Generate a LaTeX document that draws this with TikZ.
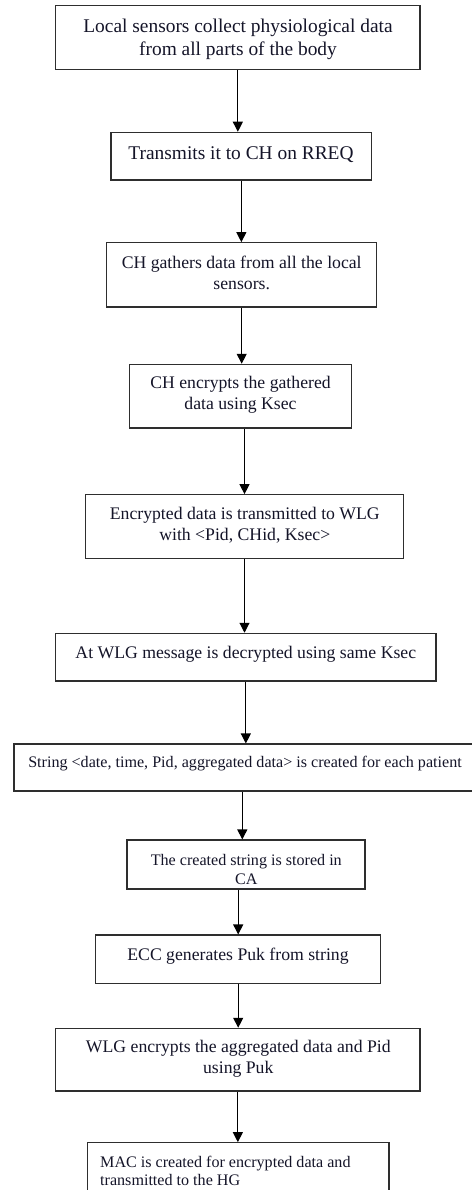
\documentclass[tikz,border=0pt]{standalone}
\usepackage{fontspec}
\setmainfont{Liberation Serif}
\usetikzlibrary{arrows.meta,fit,calc}

\definecolor{inkdark}{HTML}{141428}
\definecolor{frame}{HTML}{2E2E2E}

\tikzset{
  stepbox/.style={draw=frame, line width=1.1pt, inner sep=0pt, rectangle},
  flowarrow/.style={draw=black, line width=1.1pt, -{Triangle[length=10pt,width=10pt]}},
  txtbase/.style={text=inkdark, align=center, inner sep=0pt, yshift=-2.5pt},
  txtbig/.style={txtbase, font=\fontsize{19.4}{22.8}\selectfont},
  txtmid/.style={txtbase, font=\fontsize{17.7}{20.7}\selectfont},
  txtsmall/.style={txtbase, font=\fontsize{16.1}{18.4}\selectfont},
}

\begin{document}
\begin{tikzpicture}[x=1pt, y=-1pt]
  \useasboundingbox (0,0) rectangle (471,1190);

  % process boxes
  \node[stepbox, fit={(55.7,5.7) (420,69.3)}]     (b1) {};
  \node[stepbox, fit={(111,132.3) (371.7,180)}]   (b2) {};
  \node[stepbox, fit={(106.7,242.7) (376.7,307)}] (b3) {};
  \node[stepbox, fit={(129.3,364.3) (351.7,428)}] (b4) {};
  \node[stepbox, fit={(85.3,494.7) (403.7,558.3)}] (b5) {};
  \node[stepbox, fit={(55.7,633.3) (436,681)}]    (b6) {};
  \node[stepbox, fit={(14,744) (476,791)}]        (b7) {};
  \node[stepbox, fit={(127,840) (365,889)}]       (b8) {};
  \node[stepbox, fit={(95.7,935) (380.7,983.3)}]  (b9) {};
  \node[stepbox, fit={(55.7,1028.3) (420,1091)}]  (b10) {};
  \node[stepbox, fit={(87.7,1142.7) (389,1200)}]  (b11) {};

  % box texts
  \node[txtbig] (t1) at (238,36.5) {Local sensors collect physiological data\\from all parts of the body};
  \node[txtbig] (t2) at (241,152) {Transmits it to CH on RREQ};
  \node[txtmid] (t3) at (241.7,270.3) {CH gathers data from all the local\\sensors.};
  \node[txtmid] (t4) at (240.5,392) {CH encrypts the gathered\\data using Ksec};
  \node[txtmid] (t5) at (244.8,522.5) {Encrypted data is transmitted to WLG\\with <Pid, CHid, Ksec>};
  \node[txtmid] (t6) at (245.8,651.7) {At WLG message is decrypted using same Ksec};
  \node[txtsmall] (t7) at (245,761) {String <date, time, Pid, aggregated data> is created for each patient};
  \node[txtsmall] (t8) at (246.3,867) {The created string is stored in\\CA};
  \node[txtmid] (t9) at (238,954) {ECC generates Puk from string};
  \node[txtmid] (t10) at (238.3,1056) {WLG encrypts the aggregated data and Pid\\using Puk};
  \node[txtsmall, align=left, anchor=west] (t11) at (100,1168.5) {MAC is created for encrypted data and\\transmitted to the HG};

  % connectors
  \draw[flowarrow] (b1.south) -- (b1.south |- b2.north);
  \draw[flowarrow] (b2.south) -- (b2.south |- b3.north);
  \draw[flowarrow] (b3.south) -- (b3.south |- b4.north);
  \draw[flowarrow] (b5.north |- b4.south) -- (b5.north);
  \draw[flowarrow] (b5.south) -- (b5.south |- b6.north);
  \draw[flowarrow] (b6.south) -- (b6.south |- b7.north);
  \draw[flowarrow] ($(b7.south)+(-2.7,0)$) -- ($(b7.south |- b8.north)+(-2.7,0)$);
  \draw[flowarrow] (b9.north |- b8.south) -- (b9.north);
  \draw[flowarrow] (b9.south) -- (b9.south |- b10.north);
  \draw[flowarrow] (b10.south) -- (b10.south |- b11.north);
\end{tikzpicture}
\end{document}
